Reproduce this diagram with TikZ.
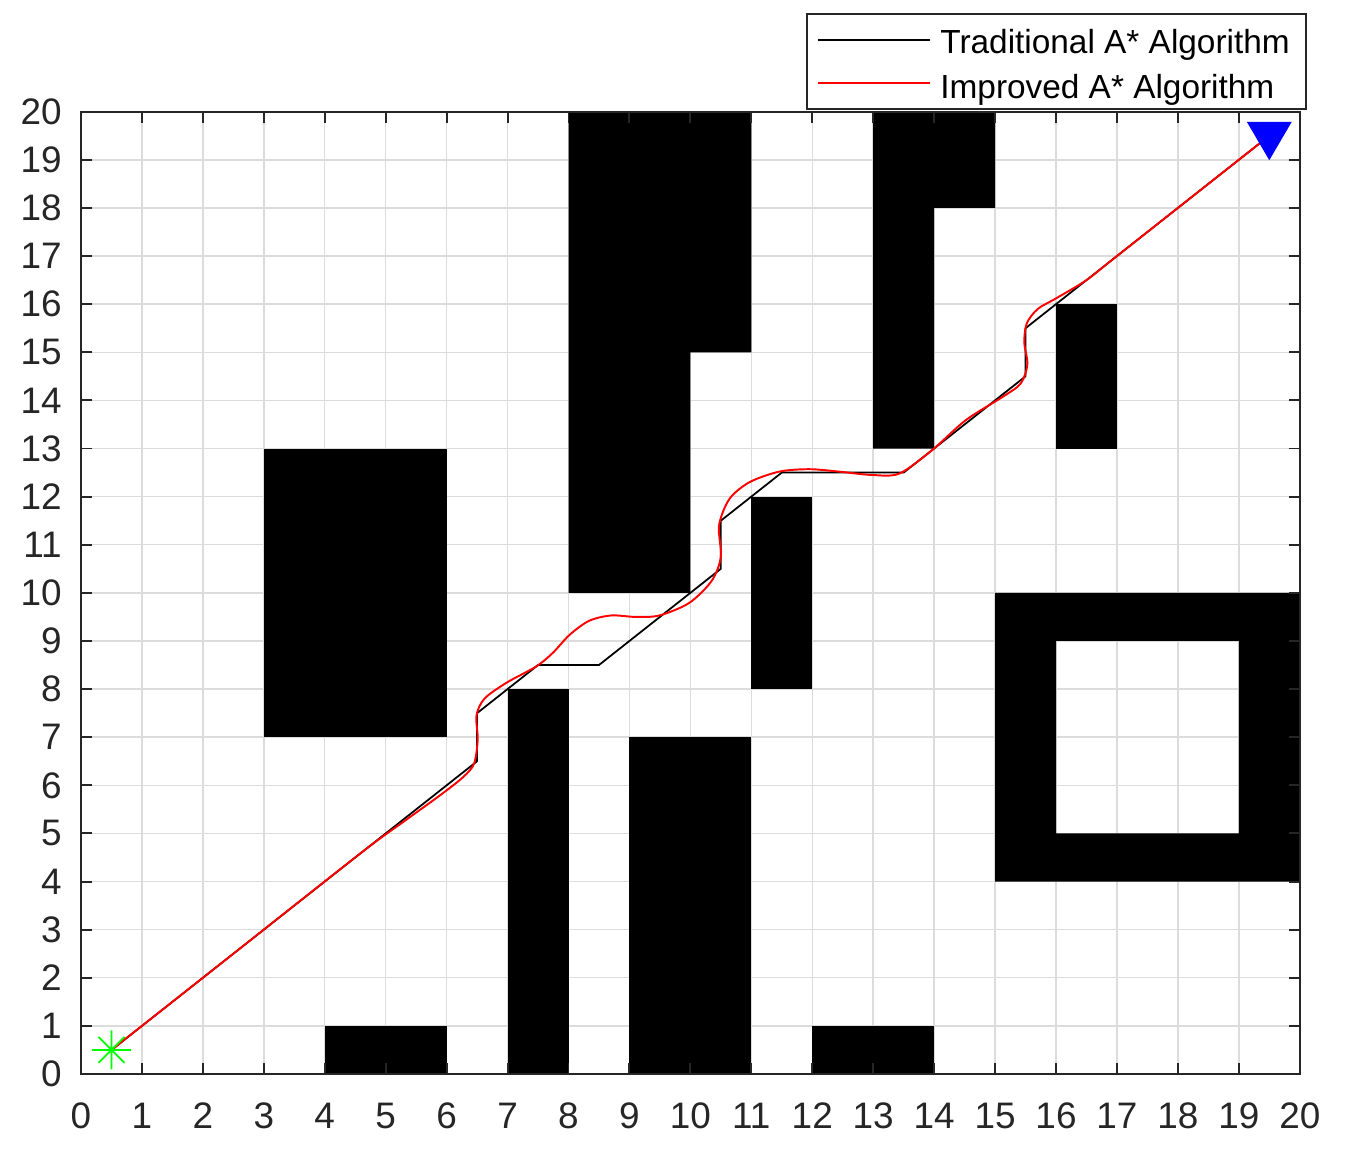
\documentclass[tikz,border=0pt]{standalone}
\usepackage{fontspec}
\setmainfont{Liberation Sans}
\definecolor{axgray}{HTML}{262626}
\definecolor{gridgray}{HTML}{DCDCDC}
\definecolor{pathred}{rgb}{1,0,0}
\definecolor{startgreen}{rgb}{0,1,0}
\definecolor{goalblue}{rgb}{0,0,1}
\tikzset{
  gridline/.style={draw=gridgray, line width=0.8pt},
  obstacle/.style={fill=black},
  axisline/.style={draw=axgray, line width=1.1pt},
  tickline/.style={draw=axgray, line width=1.1pt},
  ticklab/.style={inner sep=0pt, text=axgray, font=\fontsize{21}{25}\selectfont},
  tradpath/.style={draw=black, line width=1pt, line join=round},
  imppath/.style={draw=pathred, line width=1.1pt, line join=round},
  legbox/.style={draw=axgray, fill=white, line width=0.9pt},
  legtext/.style={inner sep=0pt, text=black, font=\fontsize{19}{23}\selectfont},
}
\begin{document}
\begin{tikzpicture}[x=0.02cm,y=-0.02cm]
\useasboundingbox (0,0) rectangle (1348,1155);
\fill[white] (0,0) rectangle (1348,1155);
\begin{scope}[shift={(81,1074)},x=1.219cm,y=0.9625cm]
  % grid
  \foreach \k in {1,...,19} {
    \draw[gridline] (\k,0) -- (\k,20);
    \draw[gridline] (0,\k) -- (20,\k);
  }
  % obstacles
  \fill[obstacle] (4,0) rectangle (6,1);
  \fill[obstacle] (3,7) rectangle (6,13);
  \fill[obstacle] (7,0) rectangle (8,8);
  \fill[obstacle] (9,0) rectangle (11,7);
  \fill[obstacle] (8,10) -- (10,10) -- (10,15) -- (11,15) -- (11,20) -- (8,20) -- cycle;
  \fill[obstacle] (11,8) rectangle (12,12);
  \fill[obstacle] (12,0) rectangle (14,1);
  \fill[obstacle] (13,13) -- (14,13) -- (14,18) -- (15,18) -- (15,20) -- (13,20) -- cycle;
  \fill[obstacle] (16,13) rectangle (17,16);
  \fill[obstacle, even odd rule] (15,4) rectangle (20,10) (16,5) rectangle (19,9);
  % traditional A* path
  \draw[tradpath] (0.5,0.5) -- (6.5,6.5) -- (6.5,7.5) -- (7.5,8.5) -- (8.5,8.5)
    -- (10.5,10.5) -- (10.5,11.5) -- (11.5,12.5) -- (13.5,12.5) -- (15.5,14.5)
    -- (15.5,15.5) -- (19.5,19.5);
  % improved A* path
  \draw[imppath] plot[smooth, tension=0.5] coordinates {
    (0.5,0.5) (2.5,2.5) (4.6,4.6) (5.3,5.25) (5.9,5.8) (6.27,6.17) (6.45,6.45)
    (6.51,6.95) (6.49,7.45) (6.62,7.8) (6.98,8.13) (7.47,8.47) (7.74,8.75)
    (8.02,9.13) (8.34,9.42) (8.7,9.53) (9.1,9.5) (9.49,9.53) (9.98,9.79)
    (10.35,10.25) (10.5,10.75) (10.47,11.4) (10.64,11.95) (10.97,12.3)
    (11.46,12.52) (11.95,12.57) (12.44,12.52) (12.98,12.45) (13.43,12.48)
    (13.97,12.97) (14.52,13.59) (15.12,14.07) (15.42,14.35) (15.53,14.75)
    (15.48,15.2) (15.52,15.6) (15.7,15.9) (16.0,16.12) (16.5,16.5) (17,17)
    (19.5,19.5)};
  % start marker
  \coordinate (start) at (0.5,0.5);
  \draw[startgreen, line width=1pt]
    ([xshift=-0.39cm]start) -- ([xshift=0.39cm]start)
    ([yshift=-0.39cm]start) -- ([yshift=0.39cm]start)
    ([xshift=-0.26cm,yshift=-0.26cm]start) -- ([xshift=0.26cm,yshift=0.26cm]start)
    ([xshift=-0.26cm,yshift=0.26cm]start) -- ([xshift=0.26cm,yshift=-0.26cm]start);
  % goal marker
  \coordinate (goal) at (19.5,19.5);
  \fill[goalblue] ([xshift=-0.45cm,yshift=0.28cm]goal) -- ([xshift=0.45cm,yshift=0.28cm]goal)
    -- ([yshift=-0.49cm]goal) -- cycle;
  % axes box and ticks
  \draw[axisline] (0,0) rectangle (20,20);
  \foreach \k in {1,...,19} {
    \draw[tickline] (\k,0) -- ++(0pt,0.22cm);
    \draw[tickline] (\k,20) -- ++(0pt,-0.22cm);
    \draw[tickline] (0,\k) -- ++(0.22cm,0pt);
    \draw[tickline] (20,\k) -- ++(-0.22cm,0pt);
  }
  \foreach \k in {0,...,20} {
    \node[ticklab, anchor=east] (yl\k) at (-0.31,\k) {\k};
    \node[ticklab, anchor=center] (xl\k) at (\k,-0.87) {\k};
  }
\end{scope}
% legend
\draw[legbox] (807,14) rectangle (1306,109);
\draw[black, line width=1pt] (818,40) -- (930,40);
\draw[pathred, line width=1pt] (818,83.3) -- (930,83.3);
\node[legtext, anchor=base west] (lt1) at (940,54) {Traditional A* Algorithm};
\node[legtext, anchor=base west] (lt2) at (940,98.3) {Improved A* Algorithm};
\end{tikzpicture}
\end{document}
